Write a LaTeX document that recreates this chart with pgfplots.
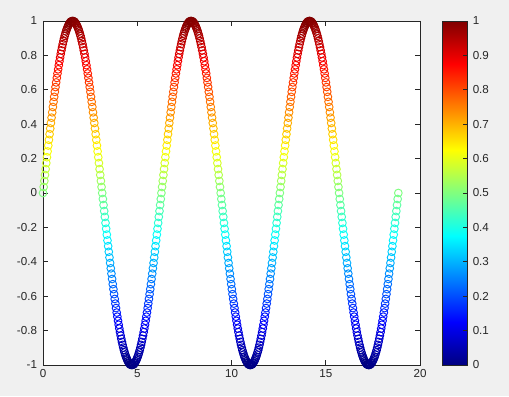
\documentclass[border=0pt]{standalone}
\usepackage{pgfplots}
\pgfplotsset{compat=1.18}
\usepackage{pgfplotstable}
\usepackage{fontspec}
\setmainfont{Liberation Sans}
\definecolor{figbg}{RGB}{240,240,240}
\definecolor{axcol}{RGB}{38,38,38}
\pgfplotstableread{
x y
0.000 0.000
0.035 0.035
0.070 0.070
0.105 0.105
0.140 0.139
0.175 0.174
0.209 0.208
0.244 0.242
0.279 0.276
0.314 0.309
0.349 0.342
0.384 0.375
0.419 0.407
0.454 0.438
0.489 0.469
0.524 0.500
0.559 0.530
0.593 0.559
0.628 0.588
0.663 0.616
0.698 0.643
0.733 0.669
0.768 0.695
0.803 0.719
0.838 0.743
0.873 0.766
0.908 0.788
0.942 0.809
0.977 0.829
1.012 0.848
1.047 0.866
1.082 0.883
1.117 0.899
1.152 0.914
1.187 0.927
1.222 0.940
1.257 0.951
1.292 0.961
1.326 0.970
1.361 0.978
1.396 0.985
1.431 0.990
1.466 0.995
1.501 0.998
1.536 0.999
1.571 1.000
1.606 0.999
1.641 0.998
1.676 0.995
1.710 0.990
1.745 0.985
1.780 0.978
1.815 0.970
1.850 0.961
1.885 0.951
1.920 0.940
1.955 0.927
1.990 0.914
2.025 0.899
2.059 0.883
2.094 0.866
2.129 0.848
2.164 0.829
2.199 0.809
2.234 0.788
2.269 0.766
2.304 0.743
2.339 0.719
2.374 0.695
2.409 0.669
2.443 0.643
2.478 0.616
2.513 0.588
2.548 0.559
2.583 0.530
2.618 0.500
2.653 0.469
2.688 0.438
2.723 0.407
2.758 0.375
2.793 0.342
2.827 0.309
2.862 0.276
2.897 0.242
2.932 0.208
2.967 0.174
3.002 0.139
3.037 0.105
3.072 0.070
3.107 0.035
3.142 0.000
3.177 -0.035
3.212 -0.070
3.247 -0.105
3.282 -0.139
3.317 -0.174
3.351 -0.208
3.386 -0.242
3.421 -0.276
3.456 -0.309
3.491 -0.342
3.526 -0.375
3.561 -0.407
3.596 -0.438
3.631 -0.469
3.666 -0.500
3.701 -0.530
3.735 -0.559
3.770 -0.588
3.805 -0.616
3.840 -0.643
3.875 -0.669
3.910 -0.695
3.945 -0.719
3.980 -0.743
4.015 -0.766
4.050 -0.788
4.084 -0.809
4.119 -0.829
4.154 -0.848
4.189 -0.866
4.224 -0.883
4.259 -0.899
4.294 -0.914
4.329 -0.927
4.364 -0.940
4.399 -0.951
4.434 -0.961
4.468 -0.970
4.503 -0.978
4.538 -0.985
4.573 -0.990
4.608 -0.995
4.643 -0.998
4.678 -0.999
4.713 -1.000
4.748 -0.999
4.783 -0.998
4.818 -0.995
4.852 -0.990
4.887 -0.985
4.922 -0.978
4.957 -0.970
4.992 -0.961
5.027 -0.951
5.062 -0.940
5.097 -0.927
5.132 -0.914
5.167 -0.899
5.201 -0.883
5.236 -0.866
5.271 -0.848
5.306 -0.829
5.341 -0.809
5.376 -0.788
5.411 -0.766
5.446 -0.743
5.481 -0.719
5.516 -0.695
5.551 -0.669
5.585 -0.643
5.620 -0.616
5.655 -0.588
5.690 -0.559
5.725 -0.530
5.760 -0.500
5.795 -0.469
5.830 -0.438
5.865 -0.407
5.900 -0.375
5.935 -0.342
5.969 -0.309
6.004 -0.276
6.039 -0.242
6.074 -0.208
6.109 -0.174
6.144 -0.139
6.179 -0.105
6.214 -0.070
6.249 -0.035
6.283 0.000
6.318 0.035
6.353 0.070
6.388 0.105
6.423 0.139
6.458 0.174
6.492 0.208
6.527 0.242
6.562 0.276
6.597 0.309
6.632 0.342
6.667 0.375
6.702 0.407
6.737 0.438
6.772 0.469
6.807 0.500
6.842 0.530
6.876 0.559
6.911 0.588
6.946 0.616
6.981 0.643
7.016 0.669
7.051 0.695
7.086 0.719
7.121 0.743
7.156 0.766
7.191 0.788
7.225 0.809
7.260 0.829
7.295 0.848
7.330 0.866
7.365 0.883
7.400 0.899
7.435 0.914
7.470 0.927
7.505 0.940
7.540 0.951
7.575 0.961
7.609 0.970
7.644 0.978
7.679 0.985
7.714 0.990
7.749 0.995
7.784 0.998
7.819 0.999
7.854 1.000
7.889 0.999
7.924 0.998
7.959 0.995
7.993 0.990
8.028 0.985
8.063 0.978
8.098 0.970
8.133 0.961
8.168 0.951
8.203 0.940
8.238 0.927
8.273 0.914
8.308 0.899
8.342 0.883
8.377 0.866
8.412 0.848
8.447 0.829
8.482 0.809
8.517 0.788
8.552 0.766
8.587 0.743
8.622 0.719
8.657 0.695
8.692 0.669
8.726 0.643
8.761 0.616
8.796 0.588
8.831 0.559
8.866 0.530
8.901 0.500
8.936 0.469
8.971 0.438
9.006 0.407
9.041 0.375
9.076 0.342
9.110 0.309
9.145 0.276
9.180 0.242
9.215 0.208
9.250 0.174
9.285 0.139
9.320 0.105
9.355 0.070
9.390 0.035
9.425 0.000
9.460 -0.035
9.495 -0.070
9.530 -0.105
9.565 -0.139
9.600 -0.174
9.634 -0.208
9.669 -0.242
9.704 -0.276
9.739 -0.309
9.774 -0.342
9.809 -0.375
9.844 -0.407
9.879 -0.438
9.914 -0.469
9.949 -0.500
9.984 -0.530
10.018 -0.559
10.053 -0.588
10.088 -0.616
10.123 -0.643
10.158 -0.669
10.193 -0.695
10.228 -0.719
10.263 -0.743
10.298 -0.766
10.333 -0.788
10.367 -0.809
10.402 -0.829
10.437 -0.848
10.472 -0.866
10.507 -0.883
10.542 -0.899
10.577 -0.914
10.612 -0.927
10.647 -0.940
10.682 -0.951
10.717 -0.961
10.751 -0.970
10.786 -0.978
10.821 -0.985
10.856 -0.990
10.891 -0.995
10.926 -0.998
10.961 -0.999
10.996 -1.000
11.031 -0.999
11.066 -0.998
11.101 -0.995
11.135 -0.990
11.170 -0.985
11.205 -0.978
11.240 -0.970
11.275 -0.961
11.310 -0.951
11.345 -0.940
11.380 -0.927
11.415 -0.914
11.450 -0.899
11.484 -0.883
11.519 -0.866
11.554 -0.848
11.589 -0.829
11.624 -0.809
11.659 -0.788
11.694 -0.766
11.729 -0.743
11.764 -0.719
11.799 -0.695
11.834 -0.669
11.868 -0.643
11.903 -0.616
11.938 -0.588
11.973 -0.559
12.008 -0.530
12.043 -0.500
12.078 -0.469
12.113 -0.438
12.148 -0.407
12.183 -0.375
12.218 -0.342
12.252 -0.309
12.287 -0.276
12.322 -0.242
12.357 -0.208
12.392 -0.174
12.427 -0.139
12.462 -0.105
12.497 -0.070
12.532 -0.035
12.566 0.000
12.601 0.035
12.636 0.070
12.671 0.105
12.706 0.139
12.741 0.174
12.775 0.208
12.810 0.242
12.845 0.276
12.880 0.309
12.915 0.342
12.950 0.375
12.985 0.407
13.020 0.438
13.055 0.469
13.090 0.500
13.125 0.530
13.159 0.559
13.194 0.588
13.229 0.616
13.264 0.643
13.299 0.669
13.334 0.695
13.369 0.719
13.404 0.743
13.439 0.766
13.474 0.788
13.508 0.809
13.543 0.829
13.578 0.848
13.613 0.866
13.648 0.883
13.683 0.899
13.718 0.914
13.753 0.927
13.788 0.940
13.823 0.951
13.858 0.961
13.892 0.970
13.927 0.978
13.962 0.985
13.997 0.990
14.032 0.995
14.067 0.998
14.102 0.999
14.137 1.000
14.172 0.999
14.207 0.998
14.242 0.995
14.276 0.990
14.311 0.985
14.346 0.978
14.381 0.970
14.416 0.961
14.451 0.951
14.486 0.940
14.521 0.927
14.556 0.914
14.591 0.899
14.625 0.883
14.660 0.866
14.695 0.848
14.730 0.829
14.765 0.809
14.800 0.788
14.835 0.766
14.870 0.743
14.905 0.719
14.940 0.695
14.975 0.669
15.009 0.643
15.044 0.616
15.079 0.588
15.114 0.559
15.149 0.530
15.184 0.500
15.219 0.469
15.254 0.438
15.289 0.407
15.324 0.375
15.359 0.342
15.393 0.309
15.428 0.276
15.463 0.242
15.498 0.208
15.533 0.174
15.568 0.139
15.603 0.105
15.638 0.070
15.673 0.035
15.708 0.000
15.743 -0.035
15.778 -0.070
15.813 -0.105
15.848 -0.139
15.883 -0.174
15.917 -0.208
15.952 -0.242
15.987 -0.276
16.022 -0.309
16.057 -0.342
16.092 -0.375
16.127 -0.407
16.162 -0.438
16.197 -0.469
16.232 -0.500
16.267 -0.530
16.301 -0.559
16.336 -0.588
16.371 -0.616
16.406 -0.643
16.441 -0.669
16.476 -0.695
16.511 -0.719
16.546 -0.743
16.581 -0.766
16.616 -0.788
16.650 -0.809
16.685 -0.829
16.720 -0.848
16.755 -0.866
16.790 -0.883
16.825 -0.899
16.860 -0.914
16.895 -0.927
16.930 -0.940
16.965 -0.951
17.000 -0.961
17.034 -0.970
17.069 -0.978
17.104 -0.985
17.139 -0.990
17.174 -0.995
17.209 -0.998
17.244 -0.999
17.279 -1.000
17.314 -0.999
17.349 -0.998
17.384 -0.995
17.418 -0.990
17.453 -0.985
17.488 -0.978
17.523 -0.970
17.558 -0.961
17.593 -0.951
17.628 -0.940
17.663 -0.927
17.698 -0.914
17.733 -0.899
17.767 -0.883
17.802 -0.866
17.837 -0.848
17.872 -0.829
17.907 -0.809
17.942 -0.788
17.977 -0.766
18.012 -0.743
18.047 -0.719
18.082 -0.695
18.117 -0.669
18.151 -0.643
18.186 -0.616
18.221 -0.588
18.256 -0.559
18.291 -0.530
18.326 -0.500
18.361 -0.469
18.396 -0.438
18.431 -0.407
18.466 -0.375
18.501 -0.342
18.535 -0.309
18.570 -0.276
18.605 -0.242
18.640 -0.208
18.675 -0.174
18.710 -0.139
18.745 -0.105
18.780 -0.070
18.815 -0.035
18.850 0.000
}\sinedata
\begin{document}
\begin{tikzpicture}
\fill[figbg] (0,0) rectangle (381.75pt,297pt);
\begin{axis}[
  at={(32.25pt,23.25pt)}, anchor=south west,
  scale only axis, width=282.75pt, height=258pt,
  xmin=0, xmax=20, ymin=-1, ymax=1,
  xtick={0,5,10,15,20},
  ytick={-1,-0.8,-0.6,-0.4,-0.2,0,0.2,0.4,0.6,0.8,1},
  tick align=inside,
  axis background/.style={fill=white},
  axis line style={axcol, line width=0.6pt},
  tick style={axcol, line width=0.6pt},
  major tick length=3.5pt,
  ticklabel style={font=\fontsize{8.7}{10}\selectfont, text=axcol},
  /pgf/number format/assume math mode=true,
  /pgf/number format/fixed,
  yticklabel style={xshift=-1pt},
  clip=false,
  colormap/jet,
  point meta min=0, point meta max=1,
  colorbar,
  colorbar/width=18.75pt,
  colorbar style={
    at={(parent axis.north east)}, anchor=north west, xshift=8.25pt,
    scale only axis, width=18.75pt, height=258pt,
    ytick={0,0.1,0.2,0.3,0.4,0.5,0.6,0.7,0.8,0.9,1},
    yticklabels={0,0.1,0.2,0.3,0.4,0.5,0.6,0.7,0.8,0.9,1},
    ytick pos=right, yticklabel pos=right,
    tick align=inside, major tick length=3pt,
    axis line style={axcol, line width=0.6pt},
    tick style={axcol, line width=0.6pt},
    ticklabel style={font=\fontsize{8.7}{10}\selectfont, text=axcol},
    yticklabel style={xshift=0.5pt},
  },
]
\addplot[scatter, only marks, mark=o, mark size=2.9pt, line width=0.7pt,
  scatter/use mapped color={draw=mapped color},
  point meta={(\thisrow{y}+1)/2}] table {\sinedata};
\end{axis}
\end{tikzpicture}
\end{document}
